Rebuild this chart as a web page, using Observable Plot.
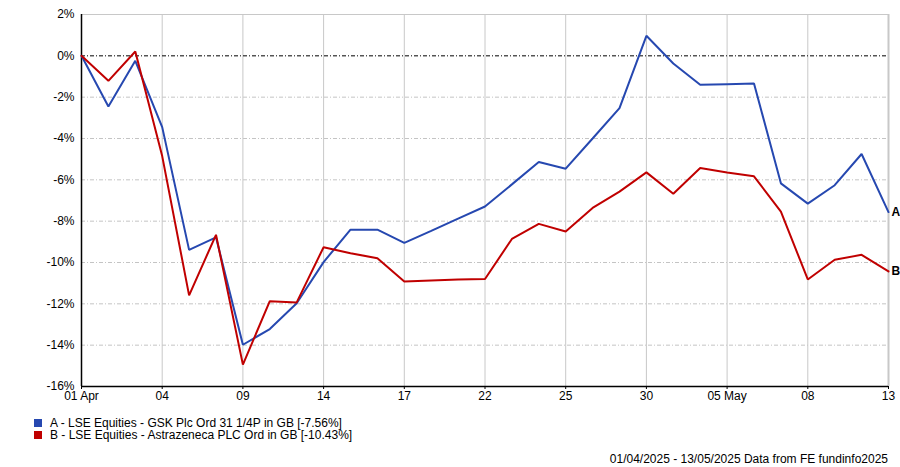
<!DOCTYPE html>
<html>
<head>
<meta charset="utf-8">
<script src="https://cdn.jsdelivr.net/npm/d3@7"></script>
<script src="https://cdn.jsdelivr.net/npm/@observablehq/plot@0.6"></script>
<style>
  body { margin: 0; background: #fff; font-family: "Liberation Sans", Arial, sans-serif; }
  #wrap { position: relative; width: 900px; height: 467px; }
  #legend { position: absolute; left: 34px; top: 417px; font-size: 12px; line-height: 12px; color: #000; }
  .item { display: flex; align-items: center; height: 12px; }
  .sw { width: 8px; height: 8px; margin-right: 8px; }
  #caption { position: absolute; right: 12px; top: 452px; font-size: 12px; color: #000; }
</style>
</head>
<body>
<div id="wrap">
  <div id="chart"></div>
  <div id="legend"></div>
  <div id="caption">01/04/2025 - 13/05/2025 Data from FE fundinfo2025</div>
</div>
<script>
const dates = ["2025-04-01","2025-04-02","2025-04-03","2025-04-04","2025-04-07","2025-04-08","2025-04-09","2025-04-10","2025-04-11",
  "2025-04-14","2025-04-15","2025-04-16","2025-04-17","2025-04-18","2025-04-21","2025-04-22","2025-04-23","2025-04-24","2025-04-25",
  "2025-04-28","2025-04-29","2025-04-30","2025-05-01","2025-05-02","2025-05-05","2025-05-06","2025-05-07","2025-05-08","2025-05-09",
  "2025-05-12","2025-05-13"];
const gsk = [0, -2.45, -0.24, -3.45, -9.39, -8.78, -13.98, -13.22, -11.97, -9.98, -8.41, -8.41, -9.05, -8.47, -7.88, -7.29,
  -6.22, -5.14, -5.46, -4.0, -2.53, 0.97, -0.37, -1.4, -1.37, -1.34, -6.17, -7.15, -6.26, -4.75, -7.56];
const azn = [0, -1.21, 0.21, -4.85, -11.59, -8.66, -14.94, -11.87, -11.93, -9.26, -9.55, -9.79, -10.92, -10.87, -10.82, -10.8,
  -8.86, -8.13, -8.5, -7.36, -6.57, -5.64, -6.67, -5.43, -5.64, -5.83, -7.54, -10.82, -9.87, -9.63, -10.43];
const tickDates = ["2025-04-01","2025-04-04","2025-04-09","2025-04-14","2025-04-17","2025-04-22","2025-04-25","2025-04-30","2025-05-05","2025-05-08","2025-05-13"];
const tickLabels = ["01 Apr","04","09","14","17","22","25","30","05 May","08","13"];
const yTicks = [2, 0, -2, -4, -6, -8, -10, -12, -14, -16];
const seriesNames = ["A - LSE Equities - GSK Plc Ord 31 1/4P in GB [-7.56%]", "B - LSE Equities - Astrazeneca PLC Ord in GB [-10.43%]"];
const seriesKeys = ["A", "B"];
const colors = ["#2648B0", "#C00000"];

const tickIdx = tickDates.map(d => dates.indexOf(d));
const labelOf = new Map(tickIdx.map((i, k) => [i, tickLabels[k]]));
const rows = [];
[gsk, azn].forEach((s, k) => s.forEach((v, i) => rows.push({i, v, key: seriesKeys[k]})));
const last = dates.length - 1;
const ends = [gsk, azn].map((s, k) => ({i: last, v: s[last], key: seriesKeys[k]}));

const chart = Plot.plot({
  width: 900, height: 410,
  marginLeft: 81, marginRight: 12, marginTop: 14, marginBottom: 24,
  style: {fontFamily: '"Liberation Sans", Arial, sans-serif', fontSize: "12px", color: "#000", background: "#fff"},
  x: {domain: [0, last], label: null},
  y: {domain: [-16, 2], label: null},
  color: {domain: seriesKeys, range: colors},
  marks: [
    Plot.ruleY(yTicks.filter(t => t !== 0 && t !== 2 && t !== -16), {stroke: "#c4c4c4", strokeWidth: 1, strokeDasharray: "4,2,1,2"}),
    Plot.ruleY([2], {stroke: "#c8c8c8", strokeWidth: 1}),
    Plot.ruleX(tickIdx, {stroke: "#c8c8c8", strokeWidth: 1}),
    Plot.ruleX([last], {stroke: "#c8c8c8", strokeWidth: 2}),
    Plot.ruleY([0], {stroke: "#000", strokeWidth: 1, strokeDasharray: "4,2,1,2"}),
    Plot.ruleX([0], {stroke: "#000", strokeWidth: 1.5}),
    Plot.ruleY([-16], {stroke: "#000", strokeWidth: 1.5}),
    Plot.axisY({ticks: yTicks, tickFormat: d => d + "%", tickSize: 0, tickPadding: 7, fontSize: 12}),
    Plot.axisX({ticks: tickIdx, tickFormat: i => labelOf.get(i), tickSize: 3, tickPadding: 2, fontSize: 12}),
    Plot.line(rows, {x: "i", y: "v", z: "key", stroke: "key", strokeWidth: 2, strokeLinejoin: "miter", curve: "linear"}),
    Plot.text(ends, {x: "i", y: "v", text: "key", dx: 3, textAnchor: "start", fontWeight: "bold", fontSize: 12, fill: "#000"})
  ]
});
document.getElementById("chart").appendChild(chart);

const legend = document.getElementById("legend");
seriesNames.forEach((n, k) => {
  const d = document.createElement("div");
  d.className = "item";
  d.innerHTML = `<span class="sw" style="background:${colors[k]}"></span><span>${n}</span>`;
  legend.appendChild(d);
});
</script>
</body>
</html>
